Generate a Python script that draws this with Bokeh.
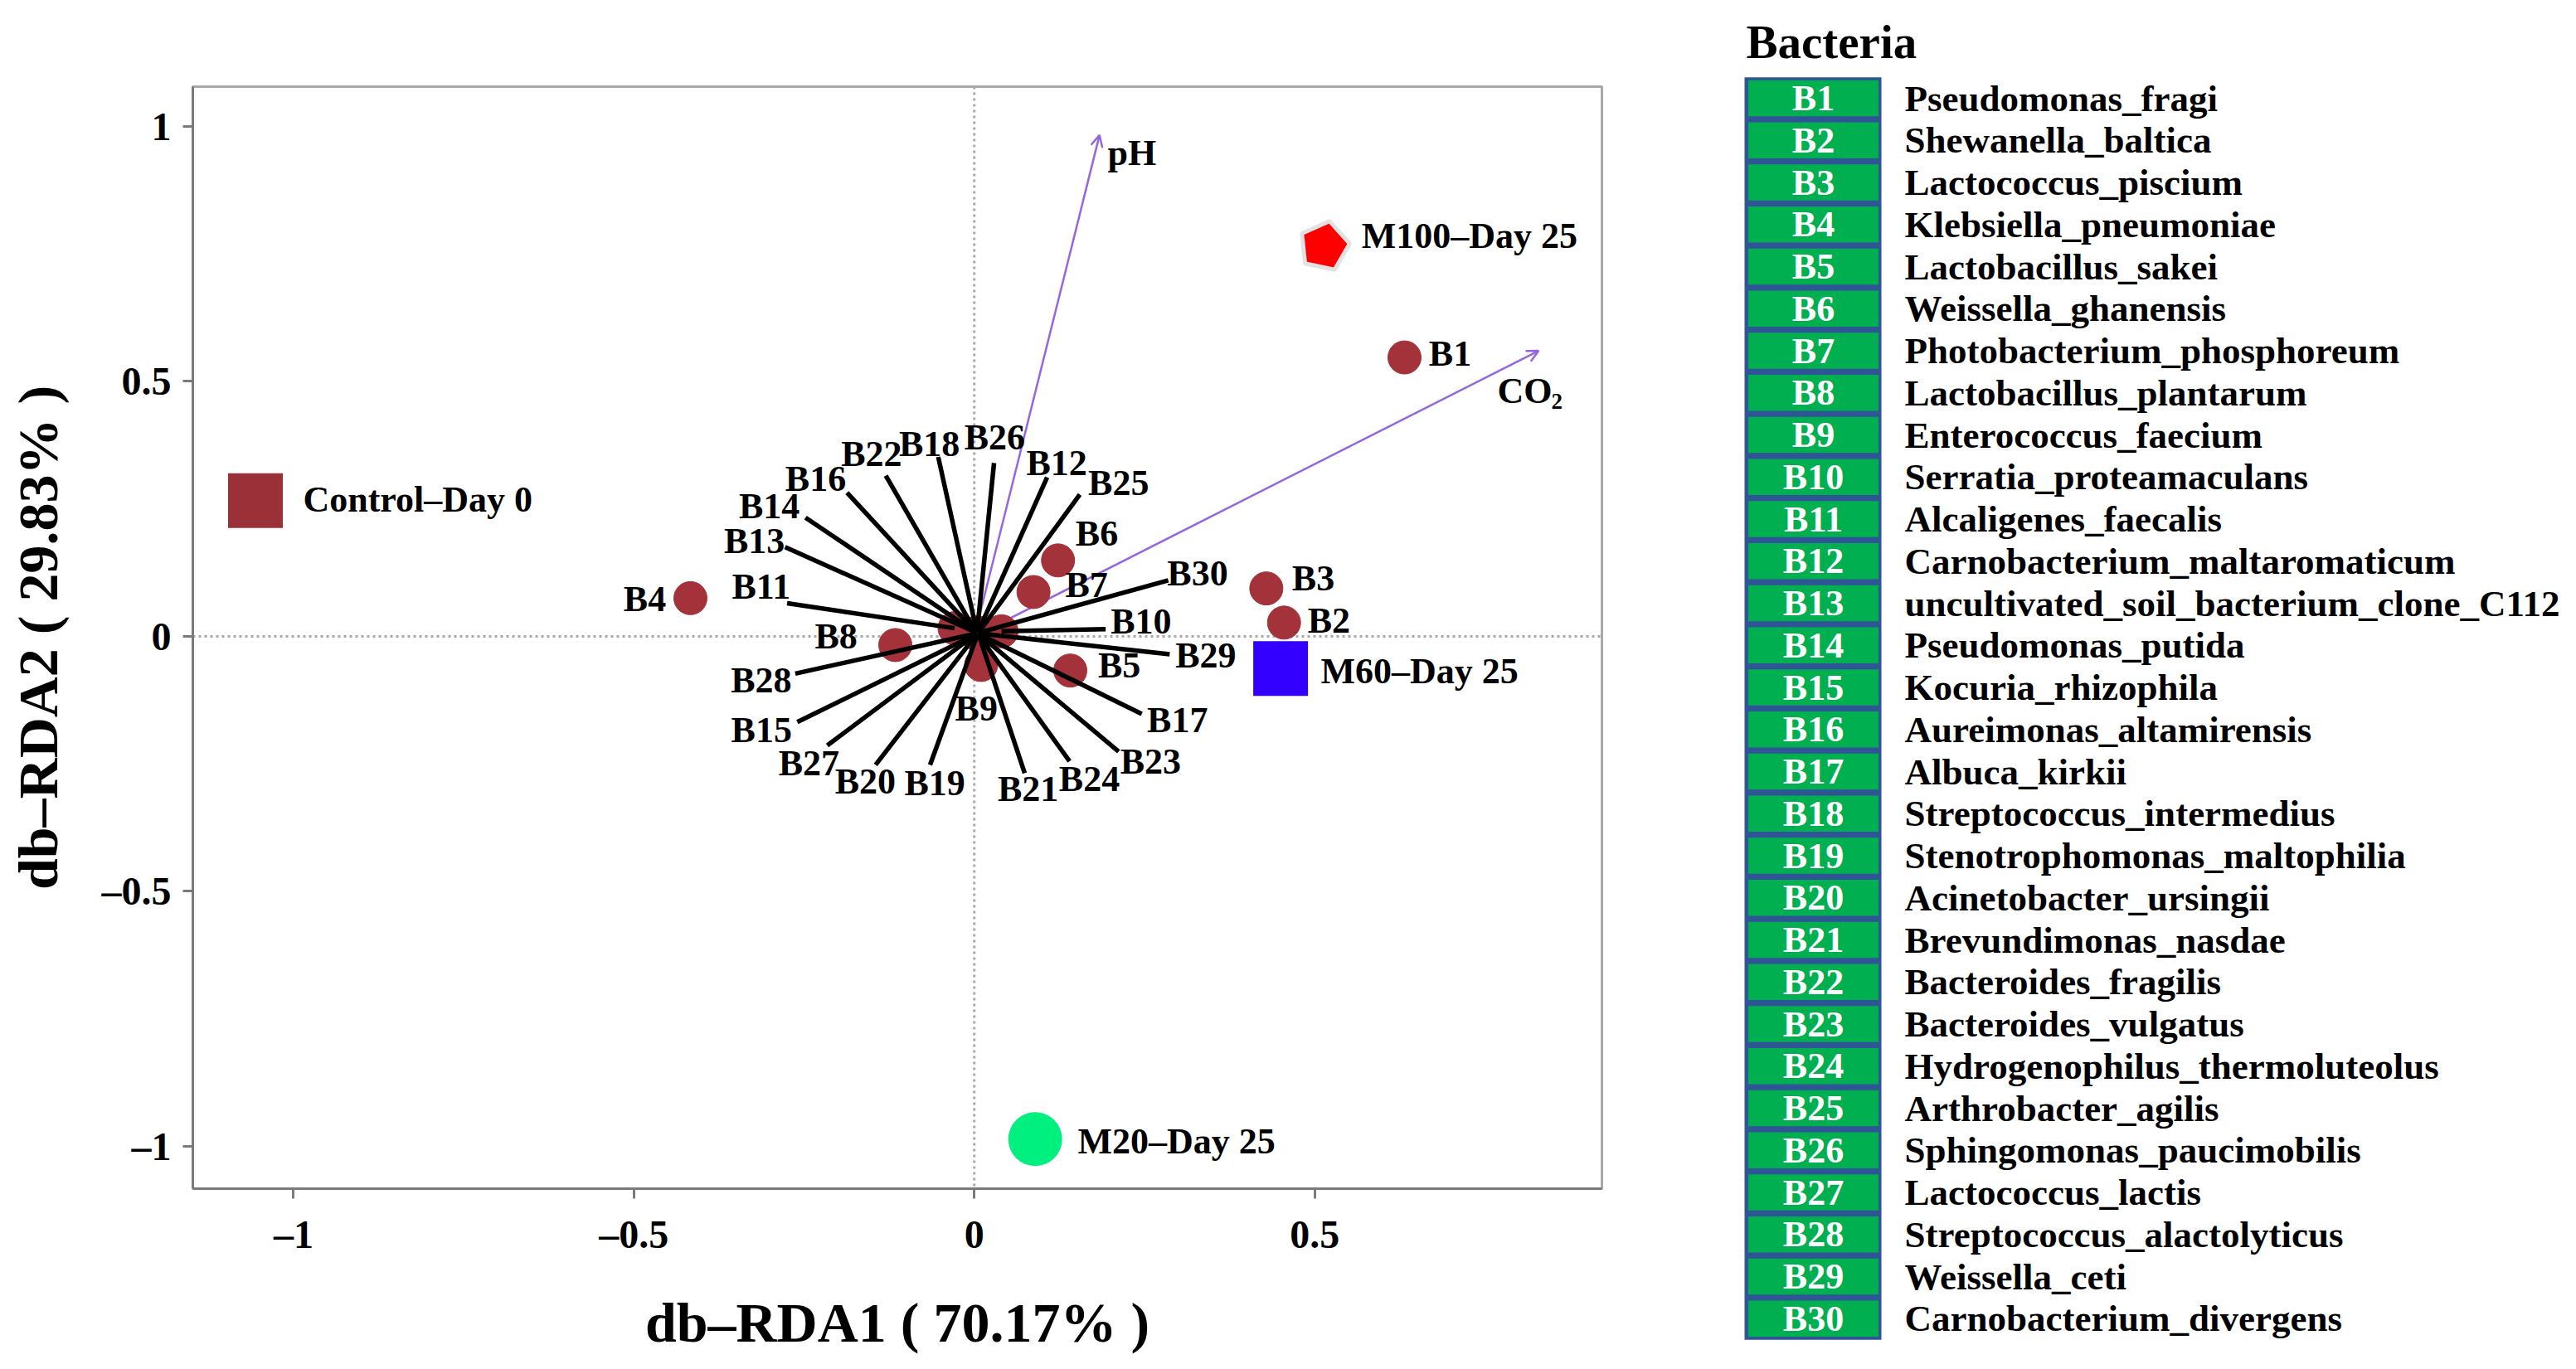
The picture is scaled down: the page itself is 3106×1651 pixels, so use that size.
import numpy as np
from bokeh.plotting import figure
from bokeh.models import (Range1d, FixedTicker, CustomJSTickFormatter, Span,
                          Arrow, OpenHead)
from bokeh.layouts import row
from bokeh.core.properties import value
from bokeh.embed import file_html
from bokeh.resources import INLINE

FONT = "Liberation Serif"

# ---------------- data ----------------
bacteria_ids = [f"B{i}" for i in range(1, 31)]
bacteria_names = [
    "Pseudomonas_fragi", "Shewanella_baltica", "Lactococcus_piscium",
    "Klebsiella_pneumoniae", "Lactobacillus_sakei", "Weissella_ghanensis",
    "Photobacterium_phosphoreum", "Lactobacillus_plantarum", "Enterococcus_faecium",
    "Serratia_proteamaculans", "Alcaligenes_faecalis", "Carnobacterium_maltaromaticum",
    "uncultivated_soil_bacterium_clone_C112", "Pseudomonas_putida", "Kocuria_rhizophila",
    "Aureimonas_altamirensis", "Albuca_kirkii", "Streptococcus_intermedius",
    "Stenotrophomonas_maltophilia", "Acinetobacter_ursingii", "Brevundimonas_nasdae",
    "Bacteroides_fragilis", "Bacteroides_vulgatus", "Hydrogenophilus_thermoluteolus",
    "Arthrobacter_agilis", "Sphingomonas_paucimobilis", "Lactococcus_lactis",
    "Streptococcus_alactolyticus", "Weissella_ceti", "Carnobacterium_divergens",
]

# bacteria scores (db-RDA1, db-RDA2)
bact_x = [0.632, 0.455, 0.429, -0.417, 0.141, 0.123, 0.087, -0.116, 0.010, 0.040,
          -0.029, 0.005, 0.004, 0.003, 0.004, 0.003, 0.006, 0.004, 0.005, 0.004,
          0.006, 0.003, 0.006, 0.005, 0.006, 0.004, 0.003, 0.004, 0.006, 0.006]
bact_y = [0.547, 0.027, 0.094, 0.075, -0.067, 0.149, 0.087, -0.017, -0.056, 0.010,
          0.016, 0.007, 0.007, 0.007, 0.005, 0.007, 0.005, 0.007, 0.005, 0.005,
          0.005, 0.007, 0.005, 0.005, 0.007, 0.007, 0.005, 0.006, 0.006, 0.007]

# label positions (repelled)
label_x = [0.699, 0.521, 0.498, -0.484, 0.213, 0.180, 0.165, -0.203, 0.003, 0.245,
           -0.313, 0.121, -0.323, -0.301, -0.3125, -0.233, 0.2985, -0.066, -0.058, -0.160,
           0.079, -0.151, 0.259, 0.169, 0.212, 0.030, -0.243, -0.313, 0.340, 0.328]
label_y = [0.554, 0.0315, 0.114, 0.073, -0.057, 0.202, 0.100, 0.000, -0.142, 0.029,
           0.098, 0.339, 0.187, 0.255, -0.184, 0.309, -0.164, 0.377, -0.288, -0.284,
           -0.299, 0.358, -0.246, -0.279, 0.301, 0.390, -0.249, -0.0865, -0.038, 0.124]

# leader segment ends (None = no leader line)
seg_end_x = [None] * 9 + [0.193, -0.275, 0.107, -0.278, -0.248, -0.260, -0.187, 0.246,
                          -0.053, -0.065, -0.145, 0.074, -0.130, 0.212, 0.140, 0.155,
                          0.029, -0.216, -0.263, 0.287, 0.285]
seg_end_y = [None] * 9 + [0.014, 0.065, 0.312, 0.175, 0.233, -0.168, 0.282, -0.152,
                          0.352, -0.252, -0.252, -0.268, 0.315, -0.226, -0.245, 0.278,
                          0.340, -0.214, -0.073, -0.035, 0.110]

samples = ["Control\u2013Day 0", "M100\u2013Day 25", "M60\u2013Day 25", "M20\u2013Day 25"]
sample_x = [-1.056, 0.514, 0.450, 0.0895]
sample_y = [0.266, 0.765, -0.063, -0.986]
sample_label_x = [-0.986, 0.569, 0.509, 0.152]
sample_label_y = [0.268, 0.786, -0.069, -0.990]

env_names = ["pH", "CO"]
env_x = [0.184, 0.829]
env_y = [0.983, 0.560]
env_label_x = [0.196, 0.7686]
env_label_y = [0.948, 0.481]

ticks = [-1, -0.5, 0, 0.5, 1]

# ---------------- main plot ----------------
p = figure(width=2088, height=1643,
           x_range=Range1d(-1.148, 0.922), y_range=Range1d(-1.083, 1.078),
           output_backend="svg", toolbar_location=None,
           min_border_left=232, min_border_right=157,
           min_border_top=104, min_border_bottom=210)
p.frame_align = False
p.grid.visible = False
p.outline_line_color = "#A8A8A8"
p.outline_line_width = 3
p.background_fill_color = "white"

fmt = CustomJSTickFormatter(code="return tick < 0 ? '\\u2013' + (-tick) : '' + tick;")
for ax in (p.xaxis[0], p.yaxis[0]):
    ax.ticker = FixedTicker(ticks=ticks)
    ax.formatter = fmt
    ax.axis_line_color = "#7A7A7A"
    ax.axis_line_width = 3
    ax.major_tick_line_color = "#7A7A7A"
    ax.major_tick_line_width = 3
    ax.major_tick_out = 12
    ax.major_tick_in = 0
    ax.minor_tick_line_color = None
    ax.major_label_text_font = FONT
    ax.major_label_text_font_style = "bold"
    ax.major_label_text_font_size = "48px"
    ax.major_label_text_color = "black"
    ax.axis_label_text_font = FONT
    ax.axis_label_text_font_style = "bold"
    ax.axis_label_text_font_size = "68px"
    ax.axis_label_text_color = "black"
p.xaxis.axis_label = "db\u2013RDA1 ( 70.17% )"
p.yaxis.axis_label = "db\u2013RDA2 ( 29.83% )"
p.xaxis.major_label_standoff = 16
p.yaxis.major_label_standoff = 14
p.xaxis.axis_label_standoff = 39
p.yaxis.axis_label_standoff = 36

# zero reference lines
for dim in ("width", "height"):
    p.add_layout(Span(location=0, dimension=dim, line_color="#A8A8A8",
                      line_width=3, line_dash="3 4", level="underlay"))

# environmental arrows
ARROW_C = "#9466E0"
for ex, ey in zip(env_x, env_y):
    p.add_layout(Arrow(end=OpenHead(size=14, line_color=ARROW_C, line_width=2.5),
                       x_start=0, y_start=0, x_end=ex, y_end=ey,
                       line_color=ARROW_C, line_width=2.5, level="underlay"))
p.text(x=env_label_x, y=env_label_y, text=env_names, text_font=value(FONT),
       text_font_style="bold", text_font_size="44px", text_align="left",
       text_baseline="middle", text_color="black")
# subscript 2 of CO2
p.text(x=[0.8477], y=[0.4604], text=["2"], text_font=value(FONT),
       text_font_style="bold", text_font_size="27px", text_align="left",
       text_baseline="middle", text_color="black")

# bacteria points
p.scatter(bact_x, bact_y, size=40, marker="circle", fill_color="#A3323A",
          line_color="#A3323A", line_width=1)

# leader segments
sx0, sy0, sx1, sy1 = [], [], [], []
for bx, by, ex, ey in zip(bact_x, bact_y, seg_end_x, seg_end_y):
    if ex is not None:
        sx0.append(bx); sy0.append(by); sx1.append(ex); sy1.append(ey)
p.segment(x0=sx0, y0=sy0, x1=sx1, y1=sy1, line_color="black", line_width=5.5)

p.text(x=label_x, y=label_y, text=bacteria_ids, text_font=value(FONT),
       text_font_style="bold", text_font_size="44px", text_align="center",
       text_baseline="middle", text_color="black")

# samples
p.scatter([sample_x[0]], [sample_y[0]], marker="square", size=66,
          fill_color="#9B3039", line_color=None)
p.ngon(x=[sample_x[1]], y=[sample_y[1]], radius=31, radius_units="screen", n=5,
       angle=-0.21, fill_color="#FF0000", line_color="#E2E2E2", line_width=5)
p.scatter([sample_x[2]], [sample_y[2]], marker="square", size=66,
          fill_color="#3300FF", line_color=None)
p.scatter([sample_x[3]], [sample_y[3]], marker="circle", size=65,
          fill_color="#00F080", line_color=None)
p.text(x=sample_label_x, y=sample_label_y, text=samples, text_font=value(FONT),
       text_font_style="bold", text_font_size="44px", text_align="left",
       text_baseline="middle", text_color="black")

# ---------------- bacteria key table ----------------
rows = list(range(1, len(bacteria_ids) + 1))
H2 = 1643
PITCH = 50.75
top_val = 1 - 118 / PITCH
p2 = figure(width=1010, height=H2, x_range=Range1d(0, 1010),
            y_range=Range1d(top_val + H2 / PITCH, top_val), output_backend="svg",
            toolbar_location=None, x_axis_type=None, y_axis_type=None,
            min_border=0)
p2.frame_align = False
p2.grid.visible = False
p2.outline_line_color = None

p2.rect(x=[97.5], y=[(rows[0] + rows[-1]) / 2], width=165, height=len(rows),
        fill_color="#2F5597", line_color=None)
p2.rect(x=98, y=rows, width=157, height=0.86, fill_color="#00B050", line_color=None)
p2.text(x=98, y=rows, text=bacteria_ids, text_font=value(FONT),
        text_font_style="bold", text_font_size="44px", text_align="center",
        text_baseline="middle", text_color="white")
p2.text(x=208, y=rows, text=bacteria_names, text_font=value(FONT),
        text_font_style="bold", text_font_size="45px", text_align="left",
        text_baseline="middle", text_color="black")
p2.text(x=[17], y=[-0.34], text=["Bacteria"], text_font=value(FONT),
        text_font_style="bold", text_font_size="57px", text_align="left",
        text_baseline="middle", text_color="black")

layout = row(p, p2)
open("out.html", "w").write(file_html(layout, INLINE))
